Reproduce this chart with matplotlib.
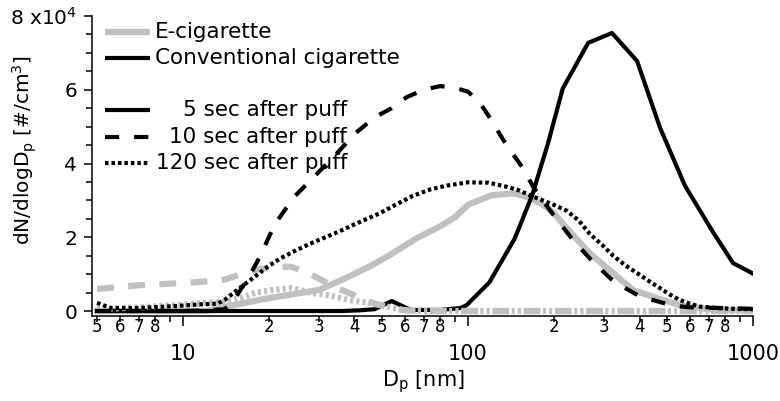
import matplotlib
matplotlib.use('Agg')
import matplotlib.pyplot as plt
from matplotlib.ticker import FixedLocator, FixedFormatter, MultipleLocator

plt.rcParams['font.family'] = ['DejaVu Sans']
plt.rcParams['mathtext.default'] = 'regular'

# particle number size distributions, values in units of 1e4 #/cm3
ecig_5s_dp = [5, 8, 10, 12, 13, 16, 20, 25, 30, 36, 45, 53, 66, 80, 90, 100, 121, 146,
              168, 190, 202, 219, 267, 323, 379, 460, 553, 700, 1000]
ecig_5s_n = [0, 0, 0, 0, 0.05, 0.2, 0.35, 0.47, 0.57, 0.84, 1.2, 1.51, 1.97, 2.3, 2.54,
             2.88, 3.14, 3.19, 3.05, 2.8, 2.62, 2.3, 1.57, 1.03, 0.57, 0.35, 0.16, 0.05, 0.02]

ecig_10s_dp = [5, 6, 7, 8, 10, 12, 14, 16, 18, 21, 24, 27, 30, 34, 38, 45, 55, 65,
               80, 100, 200, 500, 1000]
ecig_10s_n = [0.6, 0.65, 0.7, 0.72, 0.76, 0.8, 0.85, 1.0, 1.12, 1.2, 1.2, 1.05, 0.88,
              0.65, 0.5, 0.25, 0.05, 0, 0, 0, 0, 0, 0]

ecig_120s_dp = [5, 7, 9, 12, 14, 16, 18, 21, 24, 28, 33, 38, 45, 52, 60, 70, 100, 200,
                500, 1000]
ecig_120s_n = [0.05, 0.1, 0.15, 0.22, 0.25, 0.35, 0.5, 0.58, 0.62, 0.5, 0.42, 0.3, 0.22,
               0.12, 0.02, 0, 0, 0, 0, 0]

conv_5s_dp = [5, 10, 20, 30, 36, 42, 47, 54, 63, 80, 94, 99, 119, 146, 168, 191, 215,
              264, 320, 392, 472, 577, 724, 851, 991]
conv_5s_n = [0, 0, 0, 0, 0, 0.02, 0.05, 0.27, 0.03, 0.03, 0.08, 0.16, 0.78, 1.97, 3.14,
             4.55, 6.03, 7.27, 7.54, 6.78, 4.97, 3.4, 2.14, 1.3, 1.03]

conv_10s_dp = [5, 8, 10, 12, 14, 15, 16, 17, 18.7, 21, 24.6, 28.5, 34, 40, 47, 54, 61,
               70, 80, 90, 100, 110, 118, 134, 155, 170, 194, 235, 277, 325, 400, 520,
               600, 800, 1000]
conv_10s_n = [0, 0, 0, 0.02, 0.05, 0.25, 0.6, 0.9, 1.5, 2.35, 3.1, 3.6, 4.2, 4.8, 5.25,
              5.5, 5.8, 6.0, 6.1, 6.05, 5.95, 5.65, 5.3, 4.6, 3.9, 3.35, 2.73, 1.9, 1.3,
              0.8, 0.4, 0.15, 0.1, 0.08, 0.06]

conv_120s_dp = [5, 5.6, 7, 9.2, 11.5, 13.2, 14, 16, 18, 20, 22, 25, 29, 34, 40, 49, 57,
                64, 74, 84, 100, 118, 135, 150, 176, 200, 222, 245, 267, 295, 323, 355,
                392, 430, 472, 510, 553, 600, 650, 750, 850, 1000]
conv_120s_n = [0.22, 0.08, 0.08, 0.13, 0.18, 0.2, 0.3, 0.65, 0.95, 1.22, 1.43, 1.65,
               1.88, 2.1, 2.35, 2.65, 2.92, 3.12, 3.3, 3.4, 3.49, 3.48, 3.38, 3.28, 3.05,
               2.88, 2.72, 2.45, 2.1, 1.8, 1.5, 1.25, 1.03, 0.82, 0.62, 0.45, 0.3, 0.2,
               0.12, 0.08, 0.06, 0.05]

gray = '#c0c0c0'
lw_gray = 4.5
lw_black = 3.0
dash_black = (3.4, 3.6)
dot_black = (0.85, 0.7)

fig = plt.figure(figsize=(7.8, 4.01), dpi=100)
ax = fig.add_axes([92 / 780, 85 / 401, 661 / 780, 300 / 401])

ax.plot(ecig_5s_dp, ecig_5s_n, color=gray, lw=lw_gray, zorder=1)
ax.plot(conv_5s_dp, conv_5s_n, color='black', lw=lw_black, zorder=2)
ax.plot(ecig_10s_dp, ecig_10s_n, color=gray, lw=lw_gray, dashes=(2.7, 2.3), zorder=3)
ax.plot(ecig_120s_dp, ecig_120s_n, color=gray, lw=lw_gray, dashes=(0.5, 0.5), zorder=3)
ax.plot(conv_10s_dp, conv_10s_n, color='black', lw=lw_black, dashes=dash_black, zorder=4)
ax.plot(conv_120s_dp, conv_120s_n, color='black', lw=lw_black, dashes=dot_black, zorder=4)

ax.set_xscale('log')
ax.set_xlim(4.8, 1000)
ax.set_ylim(-0.135, 8)

for side in ['top', 'right']:
    ax.spines[side].set_visible(False)
for side in ['left', 'bottom']:
    ax.spines[side].set_linewidth(1.1)

# x axis: decades labelled large and low, minor ticks labelled small
ax.xaxis.set_major_locator(FixedLocator([10, 100, 1000]))
ax.xaxis.set_major_formatter(FixedFormatter(['10', '100', '1000']))
minor_pos = [5, 6, 7, 8, 9, 20, 30, 40, 50, 60, 70, 80, 90,
             200, 300, 400, 500, 600, 700, 800, 900]
minor_lab = ['5', '6', '7', '8', '', '2', '3', '4', '5', '6', '7', '8', '',
             '2', '3', '4', '5', '6', '7', '8', '']
ax.xaxis.set_minor_locator(FixedLocator(minor_pos))
ax.xaxis.set_minor_formatter(FixedFormatter(minor_lab))
ax.tick_params(axis='x', which='major', length=7.2, width=1.1, labelsize=15, pad=13)
ax.tick_params(axis='x', which='minor', length=4.3, width=1.1, labelsize=12, pad=-2.5)

ax.yaxis.set_major_locator(FixedLocator([0, 2, 4, 6, 8]))
ax.yaxis.set_major_formatter(FixedFormatter(['0', '2', '4', '6', '8 x10$^{4}$']))
ax.yaxis.set_minor_locator(MultipleLocator(0.5))
ax.tick_params(axis='y', which='major', length=5.8, width=1.1, labelsize=14.5, pad=5)
ax.tick_params(axis='y', which='minor', length=4.3, width=1.1)

ax.set_xlabel('D$_p$ [nm]', fontsize=15)
ax.xaxis.label.set_va('center')
ax.xaxis.set_label_coords(0.502, -0.22)
ax.set_ylabel('dN/dlogD$_p$ [#/cm$^3$]', fontsize=14.5)
ax.yaxis.label.set_va('center')
ax.yaxis.set_label_coords(-0.101, 0.553)

# hand made legend in the Igor style
x0, x1 = 0.0197, 0.0877
rows = [0.947, 0.86, 0.687, 0.597, 0.51]
ax.plot([x0, x1], [rows[0]] * 2, color=gray, lw=lw_gray, transform=ax.transAxes,
        solid_capstyle='butt')
ax.plot([x0, x1], [rows[1]] * 2, color='black', lw=lw_black, transform=ax.transAxes,
        solid_capstyle='butt')
ax.plot([x0, x1], [rows[2]] * 2, color='black', lw=lw_black, transform=ax.transAxes,
        solid_capstyle='butt')
ax.plot([x0, x1], [rows[3]] * 2, color='black', lw=lw_black, dashes=dash_black,
        transform=ax.transAxes)
ax.plot([x0, x1], [rows[4]] * 2, color='black', lw=lw_black, dashes=dot_black,
        transform=ax.transAxes)
leg_size = 15.5
ax.text(0.0953, rows[0], 'E-cigarette', transform=ax.transAxes, fontsize=leg_size,
        va='center', ha='left')
ax.text(0.0953, rows[1], 'Conventional cigarette', transform=ax.transAxes,
        fontsize=leg_size, va='center', ha='left')
for r, lab in zip(rows[2:], ['5 sec after puff', '10 sec after puff', '120 sec after puff']):
    ax.text(0.386, r, lab, transform=ax.transAxes, fontsize=leg_size, va='center', ha='right')

fig.savefig('out.png', dpi=100)
